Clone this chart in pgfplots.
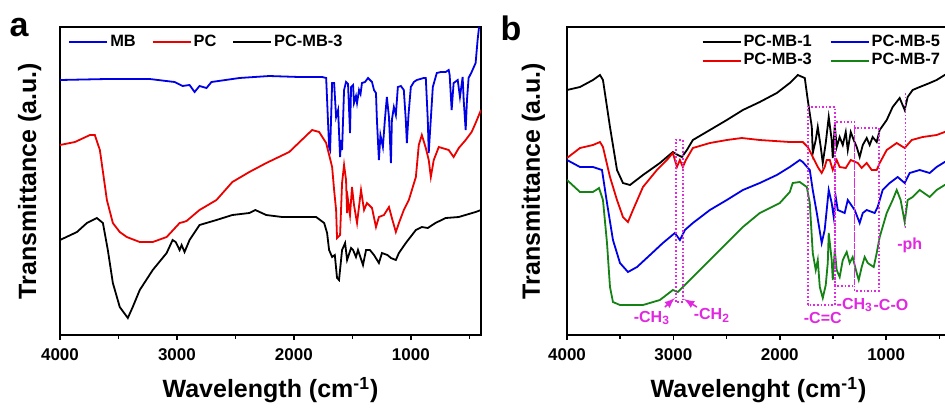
\documentclass[border=0pt]{standalone}
\usepackage{fontspec}
\setmainfont{Liberation Sans}
\usepackage{pgfplots}
\pgfplotsset{compat=1.18}

\definecolor{cblue}{RGB}{0,0,230}
\definecolor{cred}{RGB}{235,0,0}
\definecolor{cgreen}{RGB}{20,130,20}
\definecolor{cmag}{RGB}{225,40,225}

\pgfplotsset{
  ftir/.style={
    scale only axis, height=154pt,
    x dir=reverse, xmin=400, xmax=4000, ymin=65, ymax=373,
    ytick=\empty,
    xtick={1000,2000,3000,4000},
    minor xtick={500,1500,2500,3500},
    tick align=outside, xtick pos=bottom,
    major tick length=2.5pt, minor tick length=1.8pt,
    tick style={black, line width=0.8pt},
    axis line style={line width=0.9pt},
    /pgf/number format/1000 sep={},
    /pgf/number format/assume math mode=true,
    xticklabel style={font=\bfseries\fontsize{8.5}{10}\selectfont, yshift=-1pt},
    label style={font=\bfseries\fontsize{12.5}{14}\selectfont},
    xlabel style={at={(axis description cs:0.5,0)}, anchor=center, yshift=-27.5pt},
    legend style={draw=none, fill=none, font=\bfseries\fontsize{8.2}{9.5}\selectfont,
      nodes={inner sep=1pt}},
    legend image code/.code={\draw[##1] (0pt,0pt) -- (19pt,0pt);},
    every axis plot/.append style={line width=0.9pt},
  }
}

\begin{document}
\begin{tikzpicture}
\path[use as bounding box] (0,0) rectangle (472.5pt,204.5pt);

% ---------------- panel a ----------------
\begin{axis}[ftir,
    at={(30pt,37pt)}, anchor=south west, width=210.5pt,
    xlabel={Wavelength (cm\textsuperscript{-1})},
    ylabel={Transmittance (a.u.)},
    ylabel style={at={(axis description cs:-0.072,0.5)}, anchor=center},
    legend columns=3,
    legend style={at={(axis description cs:0.005,0.995)}, anchor=north west,
      /tikz/every even column/.append style={column sep=7pt}},
  ]
% MB
\addplot[cblue] coordinates {
(4000,320) (3600,321) (3233,321) (3020,318) (2952,314) (2892,315) (2849,308)
(2807,314) (2747,312) (2705,318) (2466,322) (2210,324) (1955,323) (1758,323)
(1724,322) (1716,300) (1699,253) (1690,250) (1673,317) (1656,317) (1639,283)
(1622,290) (1605,243) (1597,260) (1588,250) (1571,310) (1554,318) (1537,316)
(1520,267) (1511,313) (1494,315) (1486,297) (1469,304) (1460,297) (1443,310)
(1430,306) (1418,317) (1392,318) (1366,322) (1332,318) (1315,310) (1298,307)
(1290,280) (1273,240) (1260,265) (1239,253) (1222,280) (1205,303) (1187,283)
(1170,237) (1162,280) (1145,293) (1128,285) (1111,313) (1085,314) (1060,310)
(1043,280) (1034,257) (1020,285) (1000,313) (974,318) (949,320) (890,322)
(872,322) (855,280) (847,247) (835,270) (812,313) (778,327) (744,328) (702,328)
(676,330) (668,325) (651,290) (634,317) (599,320) (580,303) (557,323) (548,300)
(531,270) (520,300) (506,322) (480,328) (446,337) (429,360) (410,380)
};
\addlegendentry{MB}
% PC
\addplot[cred] coordinates {
(4000,255) (3872,258) (3744,265) (3702,265) (3659,250) (3599,200) (3548,177)
(3489,168) (3429,163) (3318,158) (3207,158) (3088,163) (2977,177) (2943,178)
(2918,179) (2807,190) (2662,200) (2526,218) (2381,228) (2236,237) (2040,248)
(1844,270) (1784,268) (1724,257) (1673,233) (1656,210) (1639,190) (1631,162)
(1605,165) (1588,217) (1571,235) (1554,220) (1545,187) (1537,200) (1520,185)
(1503,213) (1486,195) (1460,177) (1426,210) (1400,190) (1375,197) (1332,192)
(1298,173) (1273,183) (1230,185) (1187,193) (1162,182) (1128,168) (1102,177)
(1060,190) (1017,200) (991,210) (957,223) (932,255) (906,265) (872,252)
(847,240) (829,223) (804,240) (761,253) (676,250) (634,243) (590,252)
(531,260) (480,268) (446,277) (400,290)
};
\addlegendentry{PC}
% PC-MB-3
\addplot[black] coordinates {
(4000,160) (3855,168) (3770,177) (3685,182) (3633,177) (3591,150) (3548,117)
(3489,93) (3420,82) (3378,93) (3318,110) (3207,130) (3088,147) (3037,160)
(3011,158) (2977,150) (2960,155) (2935,148) (2892,160) (2807,175) (2662,180)
(2526,185) (2381,187) (2330,190) (2236,185) (2100,183) (1955,183) (1810,183)
(1741,177) (1716,167) (1699,150) (1673,143) (1650,145) (1631,122) (1614,120)
(1588,150) (1562,157) (1545,140) (1511,152) (1494,150) (1469,143) (1452,150)
(1409,135) (1383,150) (1350,150) (1315,145) (1273,137) (1247,147) (1200,145)
(1170,142) (1128,140) (1102,147) (1043,157) (957,170) (906,173) (855,172)
(790,177) (702,182) (591,183) (446,188) (400,190)
};
\addlegendentry{PC-MB-3}
\end{axis}

% ---------------- panel b ----------------
\begin{axis}[ftir,
    at={(283.5pt,37pt)}, anchor=south west, width=191.5pt,
    xlabel={Wavelenght (cm\textsuperscript{-1})},
    ylabel={Transmittance (a.u.)},
    ylabel style={at={(axis description cs:-0.088,0.5)}, anchor=center},
    legend columns=2,
    legend style={at={(axis description cs:0.335,0.995)}, anchor=north west,
      /tikz/every even column/.append style={column sep=8pt}},
  ]
% PC-MB-1
\addplot[black] coordinates {
(4000,310) (3878,313) (3756,320) (3690,325) (3662,320) (3596,273) (3530,230)
(3474,217) (3408,215) (3286,225) (3127,237) (3005,248) (2958,245) (2920,243)
(2873,250) (2817,260) (2657,270) (2498,280) (2347,290) (2188,298) (2028,307)
(1906,317) (1831,325) (1765,322) (1737,300) (1699,273) (1690,247) (1662,260)
(1643,273) (1615,253) (1596,237) (1568,257) (1540,283) (1512,260) (1502,242)
(1483,275) (1465,253) (1437,263) (1408,255) (1380,268) (1361,250) (1333,268)
(1305,260) (1277,253) (1249,243) (1220,255) (1183,262) (1155,255) (1127,263)
(1089,258) (1061,270) (995,280) (939,293) (873,302) (826,290) (798,303)
(751,310) (685,313) (591,317) (526,320) (450,325) (400,328)
};
\addlegendentry{PC-MB-1}
% PC-MB-5
\addplot[cblue] coordinates {
(4000,240) (3878,233) (3756,233) (3671,230) (3624,197) (3568,160) (3502,137)
(3427,128) (3342,133) (3220,145) (3099,157) (2986,167) (2939,160) (2892,170)
(2817,177) (2657,190) (2498,200) (2347,210) (2188,217) (2028,225) (1906,233)
(1812,240) (1784,238) (1718,230) (1690,210) (1652,187) (1606,157) (1578,170)
(1540,210) (1512,197) (1493,183) (1474,203) (1455,190) (1390,187) (1361,200)
(1296,190) (1249,177) (1220,187) (1183,190) (1108,187) (1080,193) (1033,210)
(967,217) (892,223) (826,217) (779,227) (685,230) (591,227) (526,233)
(450,238) (400,240)
};
\addlegendentry{PC-MB-5}
% PC-MB-3
\addplot[cred] coordinates {
(4000,242) (3878,252) (3756,255) (3690,258) (3662,253) (3596,223) (3530,200)
(3474,183) (3427,178) (3380,190) (3286,213) (3155,230) (3061,240) (3005,247)
(2967,233) (2939,240) (2911,233) (2883,240) (2817,252) (2657,257) (2498,260)
(2357,262) (2188,260) (1906,258) (1784,258) (1737,253) (1690,243) (1643,233)
(1606,227) (1578,233) (1559,240) (1530,240) (1502,230) (1465,240) (1437,233)
(1380,232) (1333,240) (1267,237) (1230,232) (1183,237) (1136,230) (1089,230)
(1061,237) (995,250) (901,257) (826,252) (760,260) (657,263) (526,265)
(450,268) (400,270)
};
\addlegendentry{PC-MB-3}
% PC-MB-7
\addplot[cgreen] coordinates {
(4000,220) (3878,208) (3756,208) (3699,212) (3662,200) (3624,157) (3596,113)
(3568,98) (3502,95) (3286,95) (3127,100) (3005,110) (2958,108) (2911,113)
(2817,123) (2657,140) (2498,157) (2347,173) (2188,187) (2000,197) (1906,208)
(1878,217) (1812,218) (1746,213) (1718,197) (1699,163) (1690,147) (1662,130)
(1643,140) (1624,113) (1596,102) (1568,115) (1549,137) (1540,167) (1512,140)
(1502,120) (1483,150) (1465,130) (1437,123) (1408,140) (1371,148) (1343,137)
(1315,143) (1277,127) (1258,120) (1230,133) (1202,143) (1173,137) (1117,133)
(1089,147) (1061,163) (995,187) (939,200) (901,210) (864,200) (826,178)
(798,200) (751,203) (685,210) (591,203) (526,210) (450,215) (400,217)
};
\addlegendentry{PC-MB-7}

% band markers
\draw[cmag, densely dotted, line width=0.8pt] (axis cs:2977,98) rectangle (axis cs:2911,260);
\draw[cmag, densely dotted, line width=0.8pt] (axis cs:1737,95) rectangle (axis cs:1483,293);
\draw[cmag, densely dotted, line width=0.8pt] (axis cs:1483,114) rectangle (axis cs:1296,278);
\draw[cmag, densely dotted, line width=0.8pt] (axis cs:1296,109) rectangle (axis cs:1070,272);
\draw[cmag, densely dotted, line width=0.8pt] (axis cs:817,172) -- (axis cs:817,307);
\draw[cmag, -latex, line width=0.8pt] (axis cs:3080,93) -- (axis cs:2986,102);
\draw[cmag, -latex, line width=0.8pt] (axis cs:2779,93) -- (axis cs:2901,101);
\begin{scope}[every node/.style={text=cmag, font=\bfseries\fontsize{8}{9}\selectfont, inner sep=0pt}]
\node at (axis cs:3202,82) {-CH\textsubscript{3}};
\node at (axis cs:2638,85) {-CH\textsubscript{2}};
\node at (axis cs:1596,82) {-C=C};
\node at (axis cs:1295,95) {-CH\textsubscript{3}};
\node at (axis cs:955,95) {-C-O};
\node at (axis cs:779,155) {-ph};
\end{scope}
\end{axis}

\node[font=\bfseries\fontsize{17}{20}\selectfont] at (9.5pt,190.5pt) {a};
\node[font=\bfseries\fontsize{17}{20}\selectfont] at (255.5pt,190.5pt) {b};
\end{tikzpicture}
\end{document}
